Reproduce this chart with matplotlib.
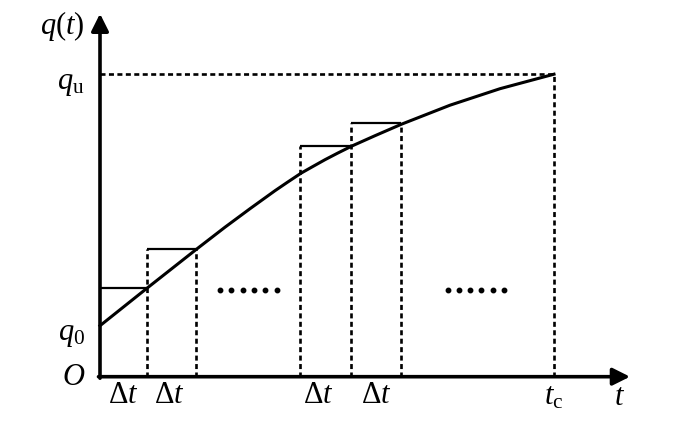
"""Staircase approximation of q(t) with time steps Δt up to t_c."""

import matplotlib.pyplot as plt

plt.rcParams["mathtext.fontset"] = "custom"
plt.rcParams["mathtext.rm"] = "Liberation Serif"
plt.rcParams["mathtext.it"] = "Liberation Serif:italic"
plt.rcParams["font.family"] = ["Liberation Serif", "DejaVu Serif"]

# curve q(t)
curve_t = [0.0, 0.94, 1.93, 2.5, 3.0, 3.5, 3.75, 4.02, 4.25, 4.5, 4.75, 5.03,
           5.5, 6.03, 7.0, 8.0, 9.08]
curve_q = [1.02, 1.77, 2.55, 2.99, 3.36, 3.72, 3.89, 4.07, 4.2, 4.34, 4.47, 4.61,
           4.82, 5.05, 5.43, 5.76, 6.05]

# step blocks: left edge, right edge, height
step_left = [0.0, 0.94, 4.01, 5.03]
step_right = [0.94, 1.93, 5.03, 6.03]
step_q = [1.77, 2.55, 4.61, 5.07]

# dotted guides: t position and top height
guide_t = [0.94, 1.93, 4.01, 5.03, 6.03]
guide_top = [2.55, 2.55, 4.61, 5.07, 5.07]

t_c = 9.08
q_u = 6.05

# the two "......" runs
dots1_t = [2.4, 2.63, 2.86, 3.08, 3.31, 3.54]
dots2_t = [6.96, 7.18, 7.41, 7.63, 7.86, 8.08]
dots_q = 1.73

dash = dict(color="black", lw=1.9, linestyle=(0, (1.9, 1.3)))

fig = plt.figure(figsize=(6.99, 4.39), dpi=100)
ax = fig.add_axes([0, 0, 1, 1])
ax.set_xlim(-2.0, 11.98)
ax.set_ylim(-1.226, 7.554)
ax.axis("off")

# guides
for t, top in zip(guide_t, guide_top):
    ax.plot([t, t], [0, top], **dash)
ax.plot([t_c, t_c], [0, q_u], **dash)
ax.plot([0, t_c], [q_u, q_u], **dash)

# steps
for l, r, h in zip(step_left, step_right, step_q):
    ax.plot([l, r], [h, h], color="black", lw=1.6, solid_capstyle="butt")

ax.plot(curve_t, curve_q, color="black", lw=2.2)

for dt in (dots1_t, dots2_t):
    ax.plot(dt, [dots_q] * len(dt), "o", color="black", markersize=3.2)

# axes with arrows
ax.annotate("", xy=(10.6, 0), xytext=(-0.03, 0),
            arrowprops=dict(arrowstyle="-|>", lw=2.6, color="black",
                            mutation_scale=26, shrinkA=0, shrinkB=0))
ax.annotate("", xy=(0, 7.26), xytext=(0, -0.03),
            arrowprops=dict(arrowstyle="-|>", lw=2.6, color="black",
                            mutation_scale=26, shrinkA=0, shrinkB=0))

fs = 22
ax.text(-0.3, 7.03, r"$q(t)$", fontsize=fs, ha="right", va="center")
ax.text(-0.3, q_u - 0.17, r"$q_{\mathrm{u}}$", fontsize=fs, ha="right", va="center")
ax.text(-0.3, 0.86, r"$q_{0}$", fontsize=fs, ha="right", va="center")
ax.text(-0.3, 0.0, r"$O$", fontsize=fs, ha="right", va="center")

for x in [0.47, 1.38, 4.36, 5.53]:
    ax.text(x, -0.35, r"$\Delta t$", fontsize=fs, ha="center", va="center")
ax.text(t_c, -0.39, r"$t_{\mathrm{c}}$", fontsize=fs, ha="center", va="center")
ax.text(10.4, -0.39, r"$t$", fontsize=fs, ha="center", va="center")

fig.savefig("out.png", dpi=100)
